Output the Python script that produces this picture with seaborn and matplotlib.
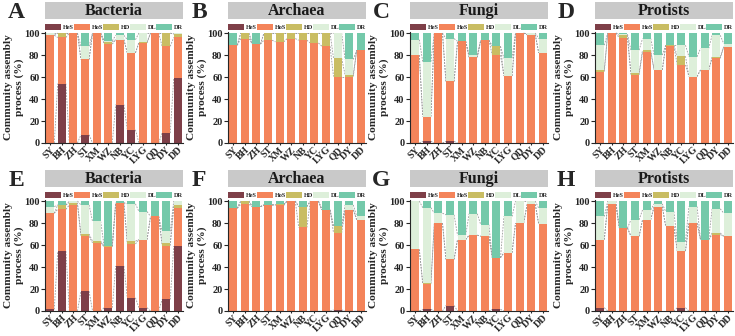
import numpy as np
import pandas as pd
import matplotlib
matplotlib.use('Agg')
import matplotlib.pyplot as plt
import seaborn as sns
from matplotlib.patches import Patch, Rectangle

# sites and assembly processes
sites = ['SY', 'BH', 'ZH', 'ST', 'XM', 'WZ', 'NB', 'YC', 'LYG', 'QD', 'DY', 'DD']
processes = ['HeS', 'HoS', 'HD', 'DL', 'DR']
colors = ['#7E3F48', '#F4845A', '#C9BD63', '#DDEFDA', '#74C9AA']

# percent of each process per site (rows: HeS, HoS, HD, DL, DR)
A_vals = [[0, 54, 0, 7.5, 0, 0, 35, 12, 0, 0, 9, 59],
          [98, 42, 100, 68.5, 100, 90, 59, 70, 91, 100, 79, 37],
          [0, 4, 0, 0, 0, 2, 0, 0, 1, 0, 12, 3],
          [2, 0, 0, 12, 0, 1, 4, 12, 8, 0, 0, 1],
          [0, 0, 0, 12, 0, 7, 2, 6, 0, 0, 0, 0]]
B_vals = [[0, 0, 0, 0, 0, 0, 0, 0, 0, 0, 0, 0],
          [89, 95, 90, 93.5, 92, 95, 93.5, 91, 88, 60.5, 60.5, 84.5],
          [0, 5, 0, 6.5, 8, 5, 6.5, 9, 12, 16.5, 1.5, 0],
          [0, 0, 0, 0, 0, 0, 0, 0, 0, 23, 14, 0],
          [11, 0, 10, 0, 0, 0, 0, 0, 0, 0, 24, 15.5]]
C_vals = [[0, 1.5, 0, 1.5, 0, 0, 0, 0, 0, 0, 0, 0],
          [80, 22.5, 100, 54.5, 92.5, 78, 93.5, 80, 61, 100, 98.5, 82],
          [0, 0, 0, 0, 0, 0, 0, 8, 0, 0, 0, 0],
          [14, 50, 0, 39, 0, 2, 0, 0, 16, 0, 1.5, 13],
          [6, 26, 0, 5, 7.5, 20, 6.5, 12, 23, 0, 0, 5]]
D_vals = [[0, 0, 0, 0, 0, 0, 0, 0, 0, 0, 0, 0],
          [65, 100, 95.5, 62, 83, 66.5, 88, 71, 60.5, 66.5, 77, 87.5],
          [1.5, 0, 2.5, 1.5, 1.5, 0, 1, 8, 0, 0, 1.5, 0],
          [22.5, 0, 1, 21, 10.5, 13.5, 0, 10, 18, 19.5, 19.5, 3],
          [11, 0, 1, 15.5, 5, 20, 11, 11, 21.5, 14, 2, 9.5]]
E_vals = [[1.5, 54.5, 0, 18, 0, 3, 41, 12, 3, 0, 10.5, 59],
          [87.5, 38, 96.5, 50, 62, 55.5, 57.5, 49, 62, 86, 49, 35],
          [0, 4, 2, 2, 1.5, 0.5, 0, 2.5, 0, 0, 2.5, 2.5],
          [6, 0, 1.5, 26.5, 18, 0, 0, 34, 25.5, 0, 10.5, 3.5],
          [5, 3.5, 0, 3.5, 18.5, 41, 1.5, 2.5, 9.5, 14, 27.5, 0]]
F_vals = [[0, 0, 0, 0, 0, 0, 0, 0, 0, 1, 0, 0],
          [93.5, 97, 95, 96.5, 96, 100, 76, 100, 92, 70, 92, 83],
          [0, 3, 0, 0, 1, 0, 19, 0, 0, 6, 0, 0],
          [0, 0, 0, 0, 0, 0, 0, 0, 0, 0, 4.5, 3],
          [6.5, 0, 5, 3.5, 3, 0, 5, 0, 8, 23, 3.5, 14]]
G_vals = [[0, 1.5, 0, 5, 0, 0, 0, 1.5, 0, 0, 0, 0],
          [56, 23, 80, 42, 65, 69, 68, 47, 53, 80, 97, 79],
          [0, 1, 0, 0, 0, 0, 0, 0, 0, 0, 0, 0],
          [44, 68.5, 9, 40.5, 4, 19.5, 10.5, 0, 33, 20, 3, 14.5],
          [0, 6, 11, 12.5, 31, 11.5, 21.5, 51.5, 14, 0, 0, 6.5]]
H_vals = [[3, 0, 0, 0, 0, 0, 0, 3, 0, 0, 0, 0],
          [62, 97, 75.5, 68, 83, 95, 77, 51.5, 80, 65, 69.5, 68],
          [0, 0, 0, 0, 0, 0, 0, 0, 0, 0, 1.5, 0],
          [21, 3, 0, 15, 9, 2.5, 13.5, 8.5, 15, 0, 22, 21],
          [14, 0, 24.5, 17, 8, 2.5, 9.5, 37, 5, 35, 7, 11]]

panels = [('A', 'Bacteria', A_vals), ('B', 'Archaea', B_vals),
          ('C', 'Fungi', C_vals), ('D', 'Protists', D_vals),
          ('E', 'Bacteria', E_vals), ('F', 'Archaea', F_vals),
          ('G', 'Fungi', G_vals), ('H', 'Protists', H_vals)]

sns.set_style('ticks')
plt.rcParams['font.family'] = ['Liberation Serif', 'DejaVu Serif']
plt.rcParams['font.weight'] = 'bold'
plt.rcParams['axes.labelweight'] = 'bold'

fig = plt.figure(figsize=(7.35, 3.36), dpi=100)
lefts = [45 / 735, 228 / 735, 410 / 735, 595 / 735]
bottoms = [1 - 143 / 336, 1 - 311 / 336]
w, h = 138 / 735, 111 / 336
bw = 0.7

for k, (letter, title, vals) in enumerate(panels):
    ax = fig.add_axes([lefts[k % 4], bottoms[k // 4], w, h])
    cum = np.cumsum(np.array(vals, dtype=float), axis=0)
    # draw cumulative tops from the highest layer down so each layer covers the next
    for j in range(4, -1, -1):
        df = pd.DataFrame({'site': sites, 'top': cum[j]})
        sns.barplot(data=df, x='site', y='top', color=colors[j], width=bw,
                    saturation=1, ax=ax, edgecolor='none', linewidth=0, zorder=2)
    # dashed connectors between adjacent bars
    for j in range(4):
        for i in range(len(sites) - 1):
            if cum[j][i] == 0 and cum[j][i + 1] == 0:
                continue
            ax.plot([i + bw / 2, i + 1 - bw / 2], [cum[j][i], cum[j][i + 1]],
                    ls=(0, (2, 1.5)), color='#9A9A9A', lw=0.6, zorder=1)
    ax.set_xlim(-0.45, 11.45)
    ax.set_ylim(0, 101)
    ax.set_yticks([0, 20, 40, 60, 80, 100])
    ax.tick_params(axis='y', labelsize=7.5, length=3, width=0.8, pad=1)
    ax.tick_params(axis='x', labelsize=7, length=1.5, width=0.8, pad=0)
    for lab in ax.get_xticklabels():
        lab.set_rotation(45)
        lab.set_ha('right')
        lab.set_rotation_mode('anchor')
    ax.set_xlabel('')
    ax.set_ylabel('Community assembly\nprocess (%)', fontsize=8.2,
                  linespacing=1.2)
    ax.yaxis.set_label_coords(-0.155, 0.5)
    for s in ['top', 'right']:
        ax.spines[s].set_visible(False)
    ax.spines['left'].set_linewidth(0.8)
    ax.spines['bottom'].set_linewidth(0.8)

    # grey title strip
    ax.add_patch(Rectangle((0, 1.115), 1, 0.155, transform=ax.transAxes,
                           facecolor='#C9C9C9', edgecolor='none', clip_on=False))
    ax.text(0.5, 1.19, title, transform=ax.transAxes, ha='center', va='center',
            fontsize=11.5, fontweight='bold', color='#1a1a1a')
    ax.text(-0.21, 1.18, letter, transform=ax.transAxes, ha='center',
            va='center', fontsize=17, fontweight='bold')

    handles = [Patch(facecolor=c, edgecolor='none') for c in colors]
    ax.legend(handles, processes, loc='lower left',
              bbox_to_anchor=(0, 1.015, 1, 0.085), mode='expand', ncol=5,
              frameon=False, fontsize=4.5, handlelength=2.6, handleheight=1.2,
              handletextpad=0.3, borderaxespad=0, borderpad=0, columnspacing=0.4)

fig.savefig('out.png', dpi=100)
